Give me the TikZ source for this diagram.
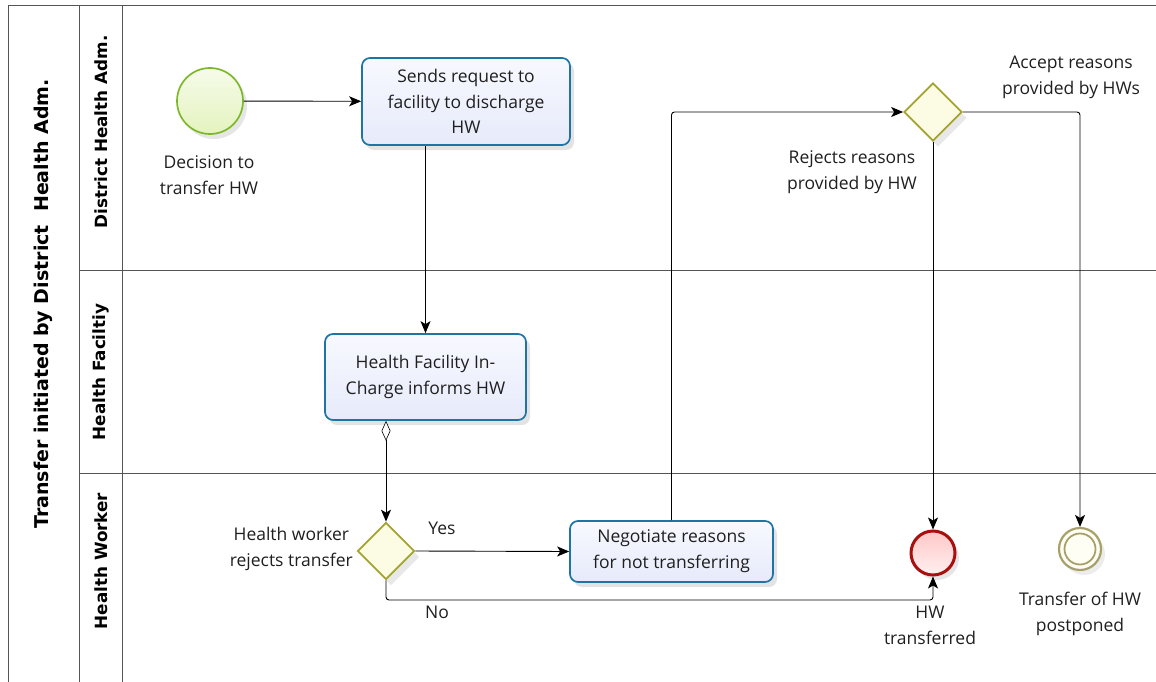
\documentclass[tikz,border=0pt]{standalone}
\usepackage{fontspec}
\setmainfont{Open Sans}
\newfontfamily\lanefont{DejaVu Sans}
\usetikzlibrary{shapes.geometric,arrows.meta,shadows,calc}
\definecolor{taskblue}{HTML}{1F74A6}
\definecolor{taskA}{HTML}{F8F9FF}
\definecolor{taskB}{HTML}{E6EAFA}
\definecolor{gwline}{HTML}{A3A32E}
\definecolor{gwfill}{HTML}{FCFCE4}
\definecolor{startline}{HTML}{7CB82A}
\definecolor{startA}{HTML}{F6FBEA}
\definecolor{startB}{HTML}{E4F3BE}
\definecolor{endred}{HTML}{A80F0F}
\definecolor{olivering}{HTML}{A8A06A}
\definecolor{poolline}{HTML}{555555}
\begin{document}
\begin{tikzpicture}[x=1pt,y=-1pt,
  every node/.style={font=\fontsize{17.5}{25.7}\selectfont, text=black!88},
  task/.style={draw=taskblue, line width=1.7pt, rounded corners=8pt,
    top color=taskA, bottom color=taskB, align=center, inner sep=0pt,
    drop shadow={shadow xshift=4pt, shadow yshift=-5pt, opacity=0.22}},
  gateway/.style={diamond, draw=gwline, line width=1.7pt, fill=gwfill,
    inner sep=0pt, minimum width=57pt, minimum height=57pt,
    drop shadow={shadow xshift=5pt, shadow yshift=-6pt, opacity=0.18}},
  flow/.style={draw=black, line width=0.9pt, rounded corners=3pt,
    -{Stealth[length=12pt,width=10pt,inset=3pt]}},
  lbl/.style={align=center, inner sep=0pt},
  lanelbl/.style={rotate=90, font=\lanefont\bfseries\fontsize{16.8}{18}\selectfont, text=black, inner sep=0pt},
  pline/.style={draw=poolline, line width=1pt}
]
\useasboundingbox (0,0) rectangle (1156,682);

% pool and lanes
\draw[pline] (8,682) -- (8,6) -- (1156,6);
\draw[pline] (79,6) -- (79,682);
\draw[pline] (122,6) -- (122,682);
\draw[pline] (79,270) -- (1156,270);
\draw[pline] (79,473) -- (1156,473);

\node[lanelbl, font=\lanefont\bfseries\fontsize{19}{21}\selectfont] (pool) at (43,304) {Transfer initiated by District\ \ Health Adm.};
\node[lanelbl] (l1) at (101,132) {District Health Adm.};
\node[lanelbl] (l2) at (101,372) {Health Faciltiy};
\node[lanelbl] (l3) at (101,561) {Health Worker};

% events
\node[circle, draw=startline, line width=1.7pt, top color=startA, bottom color=startB,
  minimum size=66pt, inner sep=0pt,
  drop shadow={shadow xshift=4pt, shadow yshift=-5pt, opacity=0.2}] (start) at (210,101) {};
\node[circle, draw=endred, line width=3pt, top color=red!22!white, bottom color=red!6!white,
  minimum size=44pt, inner sep=0pt,
  drop shadow={shadow xshift=4pt, shadow yshift=-5pt, opacity=0.2}] (e1) at (933,553) {};
\node[circle, draw=olivering, line width=2.2pt, fill=yellow!4!white,
  minimum size=42pt, inner sep=0pt,
  drop shadow={shadow xshift=4pt, shadow yshift=-5pt, opacity=0.15}] (e2) at (1080,549) {};
\draw[olivering, line width=1.8pt] (e2.center) circle (15.5pt);

% tasks
\node[task, minimum width=208pt, minimum height=87pt] (t1) at (466,101.5)
  {Sends request to\\facility to discharge\\HW};
\node[task, minimum width=201pt, minimum height=86pt] (t2) at (425.5,377)
  {Health Facility In-\\Charge informs HW};
\node[task, minimum width=203pt, minimum height=61pt] (t3) at (671.5,551.5)
  {Negotiate reasons\\for not transferring};

% gateways
\node[gateway] (g1) at (386,551) {};
\node[gateway, minimum width=58pt, minimum height=58pt] (g2) at (933,112) {};

% labels
\node[lbl] (lstart) at (209,175) {Decision to\\transfer HW};
\node[lbl, anchor=east] (lg1) at (353,549) {Health worker\\rejects transfer};
\node[lbl] (lyes) at (442,528) {Yes};
\node[lbl] (lno) at (437,612) {No};
\node[lbl] (lrej) at (852,172) {Rejects reasons\\provided by HW};
\node[lbl] (lacc) at (1071,77) {Accept reasons\\provided by HWs};
\node[lbl] (le1) at (930,625) {HW\\transferred};
\node[lbl] (le2) at (1080,614) {Transfer of HW\\postponed};

\coordinate (nob) at (933,600);

% flows
\draw[flow] (start) -- (t1);
\draw[flow] (t2.north |- t1.south) -- (t2.north);
\draw[flow, {Diamond[open,fill=white,length=20pt,width=9pt,line width=0.6pt]}-{Stealth[length=12pt,width=10pt,inset=3pt]}]
  (g1.north |- t2.south) -- (g1.north);
\draw[flow] (g1.east) -- (t3.west);
\draw[flow] (g1.south) -- (g1.south |- nob) -- (nob) -- (e1.south);
\draw[flow] (t3.north) |- (g2.west);
\draw[flow] (g2.south) -- (e1.north);
\draw[flow] (g2.east) -| (e2.north);
\end{tikzpicture}
\end{document}
